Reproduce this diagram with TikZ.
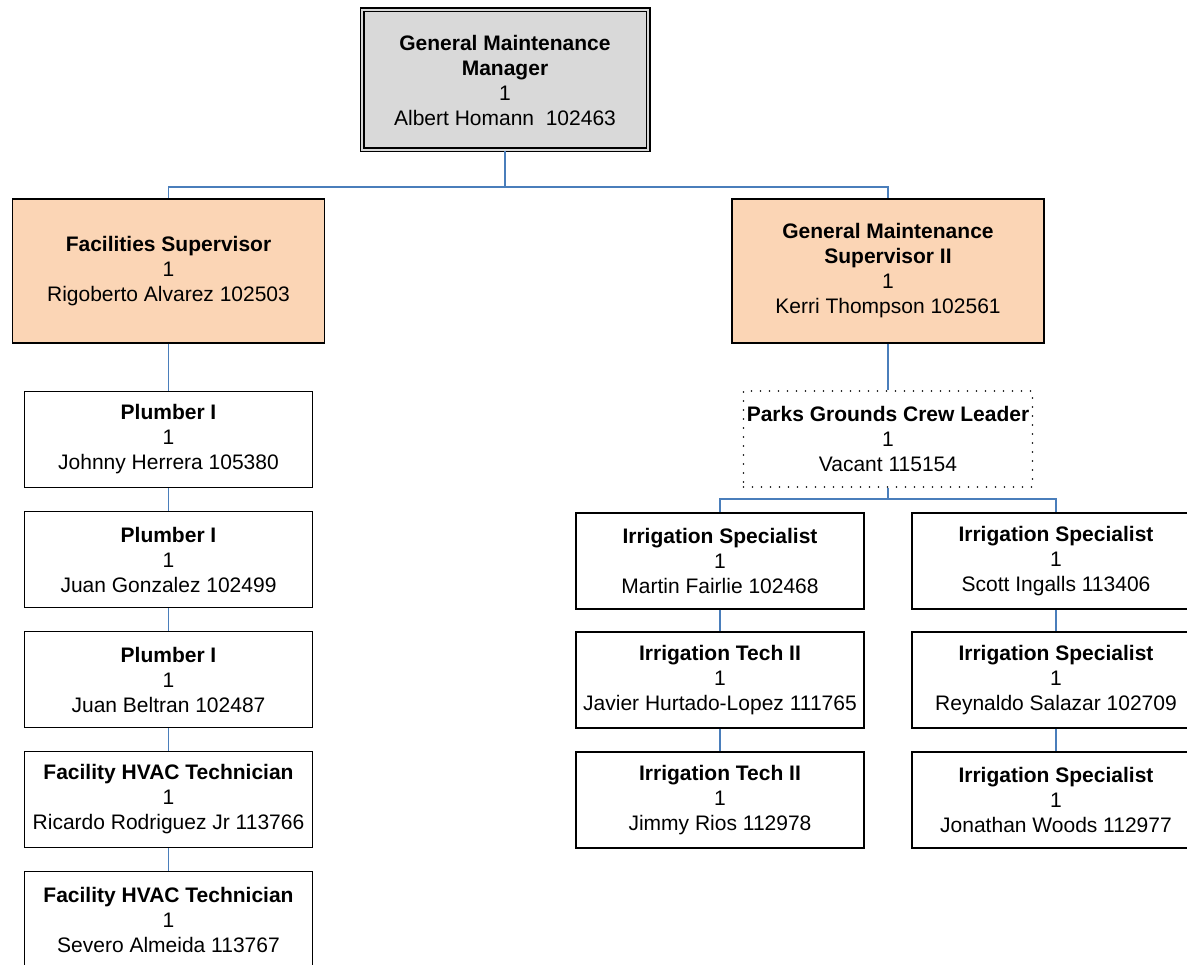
\documentclass[tikz,border=0pt]{standalone}
\usepackage{fontspec}
\setmainfont{Liberation Sans}
\definecolor{conn}{RGB}{74,126,187}
\definecolor{peach}{RGB}{251,213,181}
\definecolor{mgrey}{RGB}{217,217,217}
\tikzset{
  box/.style={draw=black, line width=1.5pt, fill=white, inner sep=0pt, align=center,
    font=\fontsize{21}{25}\selectfont, minimum width=288pt, minimum height=96pt},
  supbox/.style={box, fill=peach, minimum width=312pt, minimum height=144pt},
  topbox/.style={box, fill=mgrey, double=mgrey, double distance=2.6pt, line width=1.2pt,
    minimum width=286pt, minimum height=140pt},
  vacbox/.style={box, draw=black, line width=1.9pt, line cap=round,
    dash pattern=on 0pt off 9pt, minimum width=289pt},
  link/.style={draw=conn, line width=1.6pt}
}
\begin{document}
\begin{tikzpicture}[x=1pt,y=-1pt]
\useasboundingbox (0,0) rectangle (1187,965);
\clip (0,0) rectangle (1187,965);
\fill[white] (0,0) rectangle (1187,965);

\node[topbox] (top) at (505,80) {\textbf{General Maintenance}\\\textbf{Manager}\\1\\Albert Homann\ \ 102463};

\node[supbox] (fs) at (168.5,271) {\textbf{Facilities Supervisor}\\1\\Rigoberto Alvarez 102503};
\node[supbox] (gms) at (888,271) {\textbf{General Maintenance}\\\textbf{Supervisor II}\\1\\Kerri Thompson 102561};

\node[box] (p1) at (168.5,439.5) {\textbf{Plumber I}\\1\\Johnny Herrera 105380};
\node[box] (p2) at (168.5,559.5) {\textbf{Plumber I}\\1\\Juan Gonzalez 102499};
\node[box] (p3) at (168.5,679.5) {\textbf{Plumber I}\\1\\Juan Beltran 102487};
\node[box] (h1) at (168.5,799.5) {\textbf{Facility HVAC Technician}\\1\\Ricardo Rodriguez Jr 113766};
\node[box] (h2) at (168.5,919.5) {\textbf{Facility HVAC Technician}\\1\\Severo Almeida 113767};

\node[vacbox] (pk) at (888,439) {\textbf{Parks Grounds Crew Leader}\\1\\Vacant 115154};

\node[box] (is1) at (720,561) {\textbf{Irrigation Specialist}\\1\\Martin Fairlie 102468};
\node[box] (it1) at (720,680) {\textbf{Irrigation Tech II}\\1\\Javier Hurtado-Lopez 111765};
\node[box] (it2) at (720,800) {\textbf{Irrigation Tech II}\\1\\Jimmy Rios 112978};

\node[box] (is2) at (1056,561) {\textbf{Irrigation Specialist}\\1\\Scott Ingalls 113406};
\node[box] (is3) at (1056,680) {\textbf{Irrigation Specialist}\\1\\Reynaldo Salazar 102709};
\node[box] (is4) at (1056,800) {\textbf{Irrigation Specialist}\\1\\Jonathan Woods 112977};

\coordinate (j1) at (505,187);
\coordinate (j2) at (888,499);

\draw[link] (top.south) -- (j1);
\draw[link] (fs.north) -- (fs.north |- j1) -- (gms.north |- j1) -- (gms.north);

\draw[link] (fs.south) -- (p1.north);
\draw[link] (p1.south) -- (p2.north);
\draw[link] (p2.south) -- (p3.north);
\draw[link] (p3.south) -- (h1.north);
\draw[link] (h1.south) -- (h2.north);

\draw[link] (gms.south) -- (pk.north);
\draw[link] (pk.south) -- (j2);
\draw[link] (is1.north) -- (is1.north |- j2) -- (is2.north |- j2) -- (is2.north);

\draw[link] (is1.south) -- (it1.north);
\draw[link] (it1.south) -- (it2.north);
\draw[link] (is2.south) -- (is3.north);
\draw[link] (is3.south) -- (is4.north);
\end{tikzpicture}
\end{document}
